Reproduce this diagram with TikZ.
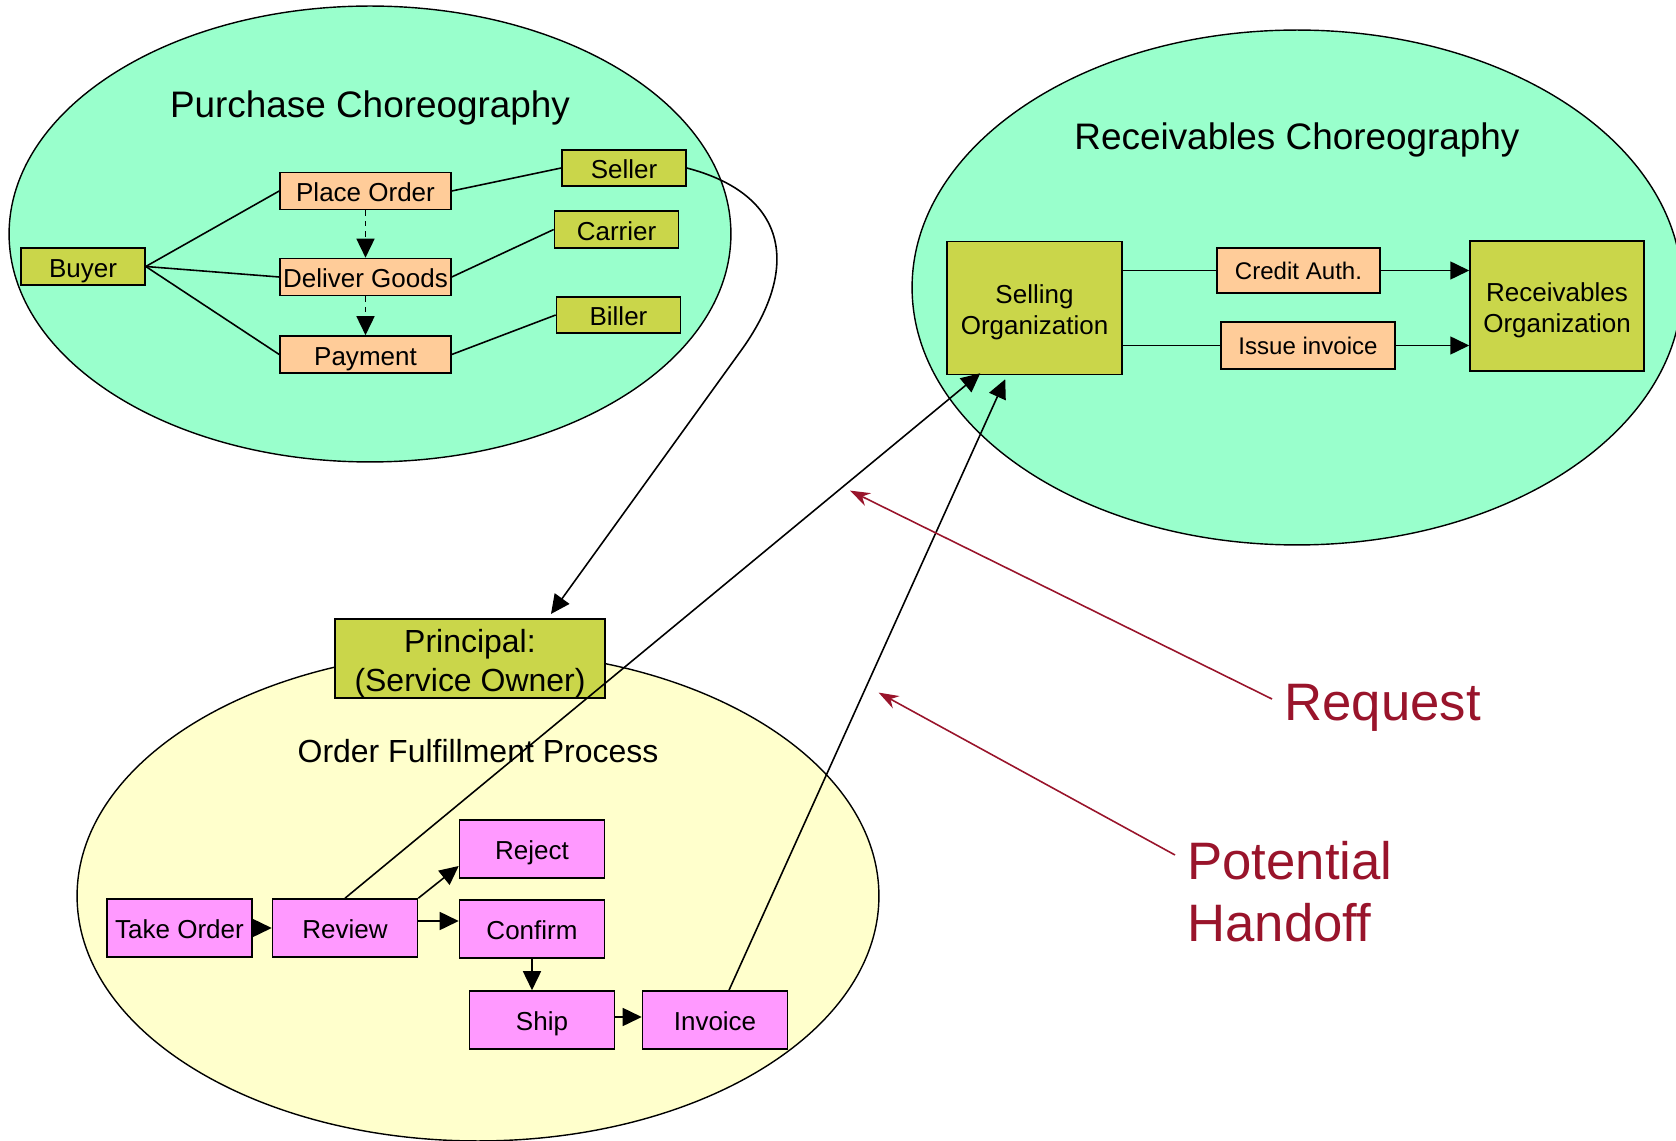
\documentclass[tikz,border=0pt]{standalone}
\usepackage{fontspec}
\setmainfont{Liberation Sans}
\usetikzlibrary{arrows.meta}
\definecolor{chorfill}{RGB}{153,255,204}
\definecolor{procfill}{RGB}{255,255,204}
\definecolor{rolefill}{RGB}{202,214,74}
\definecolor{msgfill}{RGB}{255,204,153}
\definecolor{taskfill}{RGB}{255,153,255}
\definecolor{notered}{RGB}{153,20,43}
\begin{document}
\begin{tikzpicture}[x=0.02cm, y=-0.02cm,
  boxfont/.style={node font={\fontsize{14.8}{18.2}\selectfont}, text height=12.4pt, text depth=0pt},
  role/.style={draw, fill=rolefill, line width=0.9pt, inner sep=0pt, boxfont,
    minimum width=2.48cm, minimum height=0.73cm},
  org/.style={draw, fill=rolefill, line width=0.9pt, inner sep=0pt, align=center,
    minimum width=3.5cm, minimum height=2.66cm, node font={\fontsize{14.8}{18.2}\selectfont}},
  msg/.style={draw, fill=msgfill, line width=0.9pt, inner sep=0pt, boxfont,
    minimum width=3.42cm, minimum height=0.74cm},
  task/.style={draw, fill=taskfill, line width=0.9pt, inner sep=0pt, boxfont,
    minimum width=2.9cm, minimum height=1.16cm},
  link/.style={line width=0.9pt},
  flow/.style={line width=0.9pt, -{Triangle[length=0.38cm, width=0.36cm]}},
  note/.style={notered, line width=0.9pt, -{Stealth[length=0.4cm, width=0.28cm]}}]
\useasboundingbox (0,0) rectangle (1676,1141);
% choreographies and process
\draw [fill=chorfill, line width=0.8pt] (370,234) ellipse [x radius=7.22cm, y radius=4.56cm];
\draw [fill=chorfill, line width=0.8pt] (1297,287.5) ellipse [x radius=7.7cm, y radius=5.15cm];
\draw [fill=procfill, line width=0.8pt] (478,896) ellipse [x radius=8.02cm, y radius=4.9cm];
\node (purtitle) [node font={\fontsize{21}{25}\selectfont}] at (370,108) {Purchase Choreography};
\node (rectitle) [node font={\fontsize{21}{25}\selectfont}] at (1297,140) {Receivables Choreography};
\node (proctitle) [node font={\fontsize{18.2}{22}\selectfont}] at (478,751) {Order Fulfillment Process};
% purchase
\node (buyer) [role] at (83,266.5) {Buyer};
\node (place) [msg] at (365.5,191) {Place Order};
\node (deliver) [msg] at (365.5,277) {Deliver Goods};
\node (payment) [msg] at (365.5,354.5) {Payment};
\node (seller) [role] at (624,168) {Seller};
\node (carrier) [role] at (616.5,229.5) {Carrier};
\node (biller) [role] at (618.5,315) {Biller};
\draw [link] (buyer.east) -- (place.west);
\draw [link] (buyer.east) -- (deliver.west);
\draw [link] (buyer.east) -- (payment.west);
\draw [link] (place.east) -- (seller.west);
\draw [link] (deliver.east) -- (carrier.west);
\draw [link] (payment.east) -- (biller.west);
\draw [flow, dashed] (place.south) -- (deliver.north);
\draw [flow, dashed] (deliver.south) -- (payment.north);
% receivables
\node (selling) [org] at (1034.5,308) {\rule{0pt}{15.6pt}Selling\\Organization};
\node (credit) [msg, minimum width=3.26cm, minimum height=0.9cm, node font={\fontsize{13.7}{16}\selectfont},
  text height=10pt, text depth=0pt] at (1298.5,270.5) {Credit Auth.};
\node (issue) [msg, minimum width=3.48cm, minimum height=0.94cm, node font={\fontsize{13.7}{16}\selectfont},
  text height=10pt, text depth=0pt] at (1308,345.5) {Issue invoice};
\node (recv) [org, minimum width=3.48cm, minimum height=2.6cm] at (1557,306) {\rule{0pt}{15.6pt}Receivables\\Organization};
\draw [link] (selling.east |- credit.west) -- (credit.west);
\draw [flow] (credit.east) -- (recv.west |- credit.east);
\draw [link] (selling.east |- issue.west) -- (issue.west);
\draw [flow] (issue.east) -- (recv.west |- issue.east);
% order fulfillment
\node (principal) [org, minimum width=5.4cm, minimum height=1.54cm,
  node font={\fontsize{18.2}{22.2}\selectfont}] at (470,658.5) {\rule{0pt}{19.3pt}Principal:\\(Service Owner)};
\node (take) [task] at (179.5,928) {Take Order};
\node (review) [task] at (345,928) {Review};
\node (reject) [task] at (532,849) {Reject};
\node (confirm) [task] at (532,929) {Confirm};
\node (ship) [task] at (542,1020) {Ship};
\node (invoice) [task] at (715,1020) {Invoice};
\draw [flow] (take.east) -- (review.west);
\draw [flow] (review.north east) -- ([shift={(0,17)}]reject.west);
\draw [flow] ([shift={(0,-7)}]review.east) -- ([shift={(0,-7)}]review.east -| confirm.west);
\draw [flow] (confirm.south) -- (confirm.south |- ship.north);
\draw [flow] ([shift={(0,-3)}]ship.east) -- ([shift={(0,-3)}]ship.east -| invoice.west);
% handoffs
\draw [flow] (seller.east) .. controls (790,195) and (800,270) .. (740,352)
  -- ([shift={(81,-4)}]principal.north);
\draw [flow] (review.north) -- ([shift={(34,-2)}]selling.south west);
\draw [flow] ([shift={(14,0)}]invoice.north) -- ([shift={(59,4)}]selling.south west);
% notes
\node (req) [notered, anchor=west, inner sep=0pt, node font={\fontsize{30}{35}\selectfont}] at (1284,708) {Request};
\node (hand) [notered, anchor=north west, inner sep=0pt, align=left,
  node font={\fontsize{30}{35.5}\selectfont}] at (1187,841) {Potential\\Handoff};
\coordinate (reqtip) at (850,490.6);
\coordinate (handtip) at (878.6,692.6);
\draw [note] ([shift={(-12,-9)}]req.west) -- (reqtip);
\draw [note] ([shift={(-12,14)}]hand.north west) -- (handtip);
\end{tikzpicture}
\end{document}
